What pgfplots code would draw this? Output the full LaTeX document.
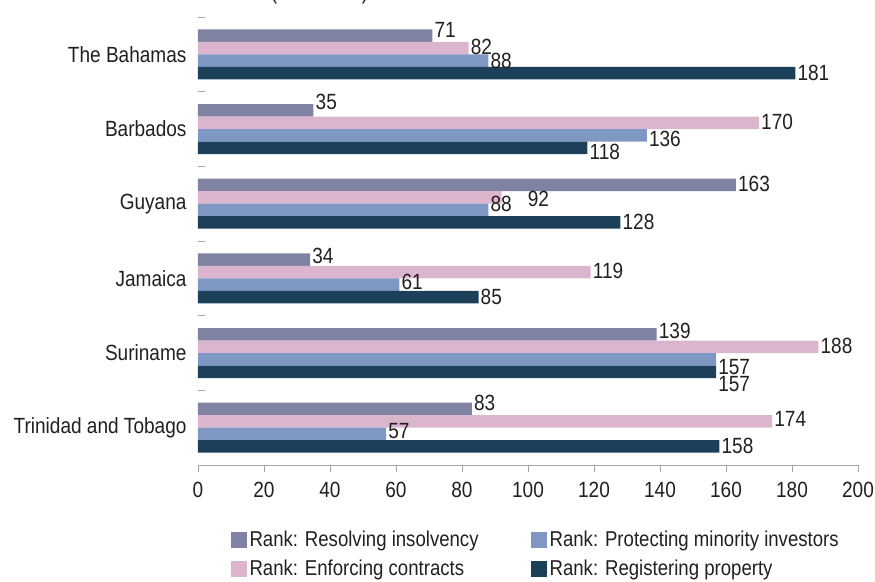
\documentclass[border=0pt]{standalone}
\usepackage{fontspec}
\setmainfont{Liberation Sans}[FakeStretch=0.865]
\usepackage{pgfplots}
\pgfplotsset{compat=1.18}
\definecolor{cRes}{RGB}{127,130,163}
\definecolor{cEnf}{RGB}{219,181,206}
\definecolor{cPro}{RGB}{127,151,195}
\definecolor{cReg}{RGB}{28,63,90}
\definecolor{txt}{RGB}{35,31,32}
\definecolor{axg}{RGB}{166,166,166}
% dres..dreg: vertical label offsets (pt, up), xenf: horizontal offset of the Enforcing label
\pgfplotstableread{
idx res enf pro reg dres denf dpro dreg xenf
0 71 82 88 181   6  1  0   0  0
1 35 170 136 118 8  1 -4  -4  0
2 163 92 88 128  1 -2  6   0  24
3 34 119 61 85   4  1  3   0  0
4 139 188 157 157 3 1 -8 -12  0
5 83 174 57 158  6  2  3   0  0
}\datatable
\begin{document}
\begin{tikzpicture}[font=\fontsize{22}{26}\selectfont, text=txt]
\begin{axis}[
  name=ax,
  scale only axis,
  width=660pt, height=448pt,
  xbar, bar width=12.5pt,
  y dir=reverse,
  xmin=0, xmax=200,
  ymin=-0.5, ymax=5.5,
  xtick={0,20,...,200},
  ytick={-0.5,0.5,1.5,2.5,3.5,4.5},
  yticklabels={The Bahamas,Barbados,Guyana,Jamaica,Suriname,Trinidad and Tobago},
  xtick align=outside,
  ytick align=inside,
  major tick length=7pt,
  tick style={draw=axg, line width=0.8pt},
  axis lines*=left,
  y axis line style={draw=none},
  x axis line style={draw=axg, line width=0.8pt},
  xticklabel style={yshift=-7pt, text=txt},
  yticklabel style={xshift=-8pt, yshift=-37.33pt, text=txt},
  /pgf/number format/assume math mode=true,
  nodes near coords,
  nodes near coords style={anchor=west, inner sep=2pt, text=txt, font=\fontsize{22}{26}\selectfont},
  legend columns=2,
  transpose legend,
  legend style={at={(0.05,-0.144)}, anchor=north west, draw=none, fill=none,
    inner sep=0pt, outer sep=0pt,
    nodes={inner sep=1.5pt, text=txt},
    font=\fontsize{21.5}{25}\selectfont,
    /tikz/every even column/.append style={column sep=51pt},
    /tikz/every odd column/.append style={column sep=1pt},
    row sep=9pt},
  legend cell align=left,
  legend image code/.code={\fill[#1] (0pt,-8pt) rectangle (16pt,8pt);},
  clip=false,
]
\addplot[fill=cRes, draw=none, bar shift=18.75pt,
  visualization depends on={\thisrow{dres} \as \dy},
  nodes near coords style={yshift=\dy pt}] table[x=res, y=idx] {\datatable};
\addplot[fill=cEnf, draw=none, bar shift=6.25pt,
  visualization depends on={\thisrow{denf} \as \dy},
  visualization depends on={\thisrow{xenf} \as \dx},
  nodes near coords style={yshift=\dy pt, xshift=\dx pt}] table[x=enf, y=idx] {\datatable};
\addplot[fill=cPro, draw=none, bar shift=-6.25pt,
  visualization depends on={\thisrow{dpro} \as \dy},
  nodes near coords style={yshift=\dy pt}] table[x=pro, y=idx] {\datatable};
\addplot[fill=cReg, draw=none, bar shift=-18.75pt,
  visualization depends on={\thisrow{dreg} \as \dy},
  nodes near coords style={yshift=\dy pt}] table[x=reg, y=idx] {\datatable};
\legend{Rank: Resolving insolvency, Rank: Enforcing contracts, Rank: Protecting minority investors, Rank: Registering property}
\end{axis}
\begin{pgfinterruptboundingbox}
\begin{scope}
\clip ([yshift=0pt]ax.north west) rectangle ([yshift=17pt]ax.north east);
\node[anchor=base west, inner sep=0pt] at ([xshift=23pt, yshift=17pt]ax.north west) {Rank (out of 190)};
\end{scope}
\end{pgfinterruptboundingbox}
\pgfresetboundingbox
\path ([xshift=-198pt, yshift=-116pt]ax.south west) rectangle ([xshift=677pt, yshift=465pt]ax.south west);
\end{tikzpicture}
\end{document}
